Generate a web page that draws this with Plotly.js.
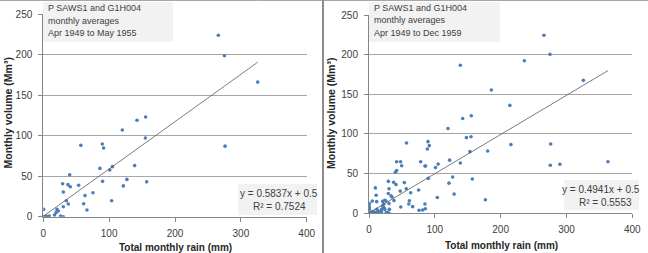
<!DOCTYPE html>
<html>
<head>
<meta charset="utf-8">
<script src="https://cdn.plot.ly/plotly-3.0.1.min.js"></script>
<style>
  html, body { margin: 0; padding: 0; background: #ffffff; }
  #chart { width: 648px; height: 253px; }
</style>
</head>
<body>
<div id="chart"></div>
<script>
// Monthly rainfall (mm) vs monthly runoff volume (Mm³), station P SAWS1 / gauge G1H004

// Apr 1949 – May 1955
const rainShort = [265.8, 275, 325.6, 276, 155.4, 142.3, 120, 155, 57, 89.6, 91.6, 86, 101, 105, 138.7,
  90, 157, 127, 121.5, 103.8, 40, 29.4, 37.5, 41, 53.7, 30.4, 75.4, 63.3, 61.3, 66.3,
  35, 38, 30.4, 20.8, 22.8, 19.3, 17, 26.3, 30.4, 0.5, 0.5, 3.5, 6.5, 9];
const volShort = [223.7, 198.5, 166, 87, 123, 119, 107, 97, 88, 89.6, 84.7, 59.6, 57.6, 61.7, 63,
  43.6, 43, 46, 38, 19.7, 51.8, 40.7, 39.5, 37, 38.7, 30.4, 29.6, 26, 16, 8.2,
  19.7, 15.6, 12.3, 9, 7, 5, 2, 0.8, 0, 9, 0.3, 0.5, 0.2, 0.8];

// Apr 1949 – Dec 1959
const rainLong = [265.8, 275, 325.6, 276, 155.4, 142.3, 120, 155, 57, 89.6, 91.6, 86, 101, 105, 138.7,
  90, 157, 127, 121.5, 103.8, 40, 29.4, 37.5, 41, 53.7, 30.4, 75.4, 63.3, 61.3, 66.3,
  35, 38, 30.4, 20.8, 22.8, 19.3, 17, 26.3, 30.4, 0.5, 0.5, 3.5, 6.5, 9,
  236, 138.7, 185.8, 214, 148, 215.6, 88.6, 153.4, 180.3, 363, 275.4, 290, 78.5, 85,
  42, 48, 49.6, 42, 122.5, 176.8, 129.3, 56.6, 47.4, 9.6, 10.8, 29.3, 33.4, 5, 0.5, 0.5,
  11.7, 20.8, 25.8, 22.3, 24, 12, 24, 31, 4, 7, 12, 15, 19, 28, 60.5, 48.3, 76, 81.5, 85.5, 85];
const volLong = [224.4, 200.4, 167.6, 87.4, 123, 119.5, 107, 96.6, 88.7, 90.3, 85.3, 59.6, 57.6, 62, 63.4,
  44, 43.3, 45.8, 38, 20, 51.8, 40.3, 39, 36.3, 38.7, 31, 29.4, 26, 15.8, 8.4,
  20.5, 16, 12.3, 9, 7, 5, 2, 0.8, 0, 8.4, 0.3, 0.5, 0.2, 0.8,
  192.4, 186.6, 155.5, 136, 95.4, 86.6, 81, 77.7, 78.6, 65, 60.5, 61.8, 65, 59.7,
  65, 65, 60, 54, 67, 17, 24.2, 31, 28, 32, 22.7, 25, 22, 15.5, 12.2, 5,
  14.7, 15, 15.5, 11.5, 16.5, 5, 5, 5, 1.5, 2, 1, 2.5, 1.8, 1.2, 11.8, 8, 3.8, 4.2, 5.8, 11.8];

// Linear trend coefficients shown in the equation boxes
const fitShort = { slope: 0.5837, intercept: 0.5, r2: 0.7524 };
const fitLong  = { slope: 0.4941, intercept: 0.5, r2: 0.5553 };

const xTicks = [0, 100, 200, 300, 400];
const yTicks = [0, 50, 100, 150, 200, 250];

const periodShort = ['P SAWS1 and G1H004', 'monthly averages', 'Apr 1949 to May 1955'];
const periodLong  = ['P SAWS1 and G1H004', 'monthly averages', 'Apr 1949 to Dec 1959'];

const xTitle = 'Total monthly rain (mm)';
const yTitle = 'Monthly volume (Mm³)';

const FONT = 'Liberation Sans, Arial, sans-serif';
const W = 648, H = 253;
const px = v => v / W;
const py = v => (H - v) / H;

function trend(xs, fit) {
  const lo = Math.min(...xs), hi = Math.max(...xs);
  return { x: [lo, hi], y: [fit.slope * lo + fit.intercept, fit.slope * hi + fit.intercept] };
}

const markerStyle = { color: '#4a7ebb', size: 3.6, symbol: 'circle' };
const lineStyle = { color: '#595959', width: 0.8 };

const tShort = trend(rainShort, fitShort);
const tLong = trend(rainLong, fitLong);

const data = [
  { x: rainShort, y: volShort, type: 'scatter', mode: 'markers', marker: markerStyle, xaxis: 'x', yaxis: 'y', hoverinfo: 'x+y' },
  { x: tShort.x, y: tShort.y, type: 'scatter', mode: 'lines', line: lineStyle, xaxis: 'x', yaxis: 'y', hoverinfo: 'skip' },
  { x: rainLong, y: volLong, type: 'scatter', mode: 'markers', marker: markerStyle, xaxis: 'x2', yaxis: 'y2', hoverinfo: 'x+y' },
  { x: tLong.x, y: tLong.y, type: 'scatter', mode: 'lines', line: lineStyle, xaxis: 'x2', yaxis: 'y2', hoverinfo: 'skip' }
];

function xAxis(domain, anchor) {
  return {
    domain, anchor, range: [0, 400], tickvals: xTicks, ticktext: xTicks.map(String),
    showgrid: false, zeroline: false, showline: true, linecolor: '#868686', linewidth: 1,
    ticks: 'outside', ticklen: 4, tickcolor: '#868686', ticklabelstandoff: 3,
    tickfont: { family: FONT, size: 10, color: '#404040' }, fixedrange: true
  };
}
function yAxis(domain, anchor) {
  return {
    domain, anchor, range: [0, 250], tickvals: yTicks, ticktext: yTicks.map(String),
    showgrid: true, gridcolor: '#a6a6a6', gridwidth: 1, zeroline: false,
    showline: true, linecolor: '#868686', linewidth: 1,
    ticks: 'outside', ticklen: 4, tickcolor: '#868686', ticklabelstandoff: 4,
    tickfont: { family: FONT, size: 10, color: '#404040' }, fixedrange: true
  };
}

const textColor = '#404040';
const annotations = [];
function addText(text, x, y, opts) {
  annotations.push(Object.assign({
    text, x: px(x), y: py(y), xref: 'paper', yref: 'paper', showarrow: false,
    xanchor: 'left', yanchor: 'middle', font: { family: FONT, size: 9, color: textColor }
  }, opts || {}));
}

// period notes, one line each
periodShort.forEach((s, i) => addText(s, 46, 8 + i * 12.6));
periodLong.forEach((s, i) => addText(s, 372, 7.5 + i * 12.8));

// trend equations
const eqFont = { family: FONT, size: 10, color: textColor };
addText('y = ' + fitShort.slope + 'x + ' + fitShort.intercept, 279, 193, { xanchor: 'center', font: eqFont });
addText('R² = ' + fitShort.r2, 279, 207, { xanchor: 'center', font: eqFont });
addText('y = ' + fitLong.slope + 'x + ' + fitLong.intercept, 601, 189, { xanchor: 'center', font: eqFont });
addText('R² = ' + fitLong.r2, 605, 202.5, { xanchor: 'center', font: eqFont });

// axis titles
const titleFont = { family: FONT, size: 10, color: '#262626', weight: 'bold' };
const yTitleFont = { family: FONT, size: 10.5, color: '#262626', weight: 'bold' };
addText(xTitle, 175.5, 247.5, { xanchor: 'center', font: titleFont });
addText(xTitle, 501, 245, { xanchor: 'center', font: titleFont });
addText(yTitle, 7.5, 113, { xanchor: 'center', textangle: -90, font: yTitleFont });
addText(yTitle, 331, 114, { xanchor: 'center', textangle: -90, font: yTitleFont });

const boxFill = '#f2f2f2';
function rect(x0, y0, x1, y1) {
  return { type: 'rect', xref: 'paper', yref: 'paper', x0: px(x0), x1: px(x1), y0: py(y1), y1: py(y0),
    fillcolor: boxFill, line: { width: 0 }, layer: 'above' };
}

const shapes = [
  rect(43, 2, 173, 42),
  rect(369, 2, 500, 42),
  rect(238, 184, 317, 215),
  rect(564, 180, 639, 210),
  // frame: top rule and panel divider
  { type: 'line', xref: 'paper', yref: 'paper', x0: 0, x1: 1, y0: py(0.5), y1: py(0.5), line: { color: '#a6a6a6', width: 1 } },
  { type: 'line', xref: 'paper', yref: 'paper', x0: px(323), x1: px(323), y0: 0, y1: 1, line: { color: '#8c8c8c', width: 2 } }
];

const layout = {
  width: W, height: H,
  margin: { l: 0, r: 0, t: 0, b: 0 },
  paper_bgcolor: '#ffffff', plot_bgcolor: '#ffffff',
  showlegend: false,
  xaxis: xAxis([px(43.3), px(306.7)], 'y'),
  yaxis: yAxis([py(216.7), py(14)], 'x'),
  xaxis2: xAxis([px(369), px(632.3)], 'y2'),
  yaxis2: yAxis([py(213.3), py(15)], 'x2'),
  shapes, annotations
};

Plotly.newPlot('chart', data, layout, { displayModeBar: false, staticPlot: true });
</script>
</body>
</html>
